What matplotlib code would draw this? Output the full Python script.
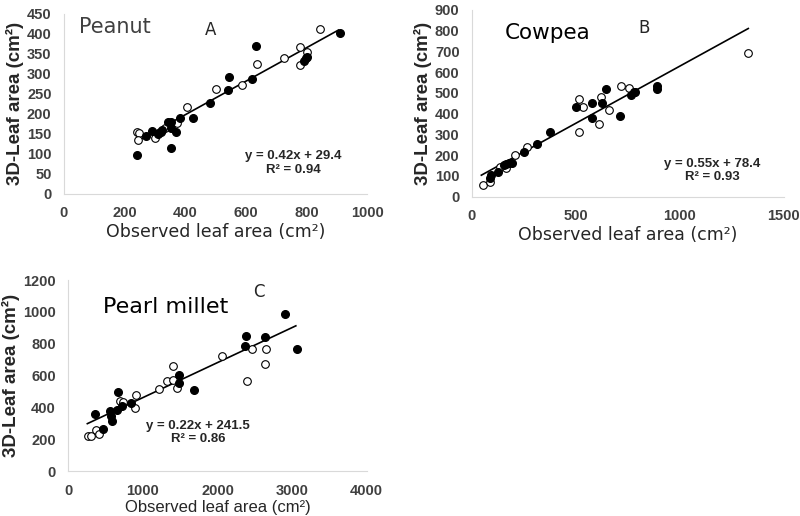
import numpy as np
import matplotlib.pyplot as plt

# Peanut (A)
peanut_filled_x = [240, 269, 291, 310, 319, 324, 344, 354, 352, 354, 371, 383, 425, 480, 540, 545, 620, 634, 791, 797, 800, 909]
peanut_filled_y = [96, 144, 157, 148, 155, 159, 180, 180, 163, 115, 155, 190, 190, 226, 259, 293, 286, 369, 333, 339, 343, 401]
peanut_open_x = [240, 247, 244, 300, 332, 374, 405, 500, 586, 637, 725, 778, 780, 803, 844]
peanut_open_y = [153, 151, 135, 140, 163, 177, 216, 263, 272, 324, 340, 366, 321, 355, 411]

# Cowpea (B)
cowpea_filled_x = [88, 93, 125, 152, 165, 177, 193, 249, 313, 374, 502, 577, 580, 626, 645, 714, 767, 778, 786, 890, 890]
cowpea_filled_y = [92, 105, 117, 154, 158, 161, 164, 217, 254, 309, 431, 378, 453, 453, 519, 386, 490, 503, 506, 534, 518]
cowpea_open_x = [53, 85, 136, 165, 209, 265, 516, 613, 661, 534, 516, 621, 718, 754, 1329]
cowpea_open_y = [55, 69, 141, 140, 199, 241, 313, 350, 418, 434, 471, 479, 534, 523, 694]

# Pearl millet (C)
millet_filled_x = [353, 469, 558, 567, 581, 656, 670, 714, 839, 1486, 1486, 1683, 2379, 2370, 2637, 2910, 3071]
millet_filled_y = [358, 266, 379, 346, 316, 384, 495, 409, 425, 604, 552, 509, 851, 788, 841, 985, 765]
millet_open_x = [268, 300, 371, 411, 692, 728, 893, 906, 1218, 1325, 1397, 1406, 1451, 2058, 2459, 2647, 2637, 2401]
millet_open_y = [220, 222, 258, 233, 442, 436, 394, 478, 516, 568, 572, 660, 520, 723, 769, 765, 673, 568]

# regression: slope, intercept, r2, x-range of line
fits = {
    'A': (0.42, 29.4, 0.94, 240, 905),
    'B': (0.55, 78.4, 0.93, 45, 1330),
    'C': (0.22, 241.5, 0.86, 255, 3050),
}

fig = plt.figure(figsize=(8, 5.16), dpi=100)


def panel(rect, fx, fy, ox, oy, fit, xmax, xstep, ymax, ystep):
    ax = fig.add_axes(rect)
    ax.plot(ox, oy, 'o', ms=5.5, mfc='white', mec='black', mew=0.8, zorder=3)
    ax.plot(fx, fy, 'o', ms=5.5, mfc='black', mec='black', zorder=3)
    a, b, r2, x0, x1 = fit
    xs = np.array([x0, x1])
    ax.plot(xs, a * xs + b, color='black', lw=1.2, zorder=2)
    ax.set_xlim(0, xmax)
    ax.set_ylim(0, ymax)
    ax.set_xticks(np.arange(0, xmax + 1, xstep))
    ax.set_yticks(np.arange(0, ymax + 1, ystep))
    for s in ['top', 'right']:
        ax.spines[s].set_visible(False)
    for s in ['left', 'bottom']:
        ax.spines[s].set_color('#d9d9d9')
    ax.tick_params(length=0, pad=9)
    for lab in ax.get_xticklabels() + ax.get_yticklabels():
        lab.set_fontsize(10.5)
        lab.set_fontweight('bold')
        lab.set_color('#404040')
        lab.set_family('Liberation Sans')
    ax.set_ylabel('3D-Leaf area (cm²)', fontsize=13.5, fontweight='bold',
                  family='Liberation Sans', color='#262626', labelpad=2)
    return ax


axA = panel([0.080, 0.625, 0.379, 0.348], peanut_filled_x, peanut_filled_y,
            peanut_open_x, peanut_open_y, fits['A'], 1000, 200, 450, 50)
axA.set_xlabel('Observed leaf area (cm²)', fontsize=12.5, family='DejaVu Sans', color='#262626', labelpad=2)
axA.text(0.05, 0.93, 'Peanut', transform=axA.transAxes, fontsize=15, color='#404040', family='DejaVu Sans', va='center')
axA.text(0.465, 0.91, 'A', transform=axA.transAxes, fontsize=12, color='#262626', family='DejaVu Sans', va='center')
axA.text(0.755, 0.17, 'y = 0.42x + 29.4\nR² = 0.94', transform=axA.transAxes, fontsize=9.5,
         fontweight='bold', family='Liberation Sans', color='#262626', ha='center', va='center', linespacing=1.15)

axB = panel([0.590, 0.619, 0.3895, 0.362], cowpea_filled_x, cowpea_filled_y,
            cowpea_open_x, cowpea_open_y, fits['B'], 1500, 500, 900, 100)
axB.set_xlabel('Observed leaf area (cm²)', fontsize=12.5, family='DejaVu Sans', color='#262626', labelpad=2)
axB.text(0.105, 0.875, 'Cowpea', transform=axB.transAxes, fontsize=15.5, color='black', family='DejaVu Sans', va='center')
axB.text(0.535, 0.9, 'B', transform=axB.transAxes, fontsize=12, color='#262626', family='DejaVu Sans', va='center')
axB.text(0.771, 0.138, 'y = 0.55x + 78.4\nR² = 0.93', transform=axB.transAxes, fontsize=9.5,
         fontweight='bold', family='Liberation Sans', color='#262626', ha='center', va='center', linespacing=1.15)

axC = panel([0.0854, 0.0872, 0.373, 0.370], millet_filled_x, millet_filled_y,
            millet_open_x, millet_open_y, fits['C'], 4000, 1000, 1200, 200)
axC.set_xlabel('Observed leaf area (cm²)', fontsize=12, family='Liberation Sans', color='#262626', labelpad=2)
axC.text(0.115, 0.86, 'Pearl millet', transform=axC.transAxes, fontsize=16, color='black', family='DejaVu Sans', va='center')
axC.text(0.62, 0.935, 'C', transform=axC.transAxes, fontsize=12, color='#262626', family='DejaVu Sans', va='center')
axC.text(0.434, 0.2, 'y = 0.22x + 241.5\nR² = 0.86', transform=axC.transAxes, fontsize=9.5,
         fontweight='bold', family='Liberation Sans', color='#262626', ha='center', va='center', linespacing=1.15)

fig.savefig('out.png', dpi=100)
